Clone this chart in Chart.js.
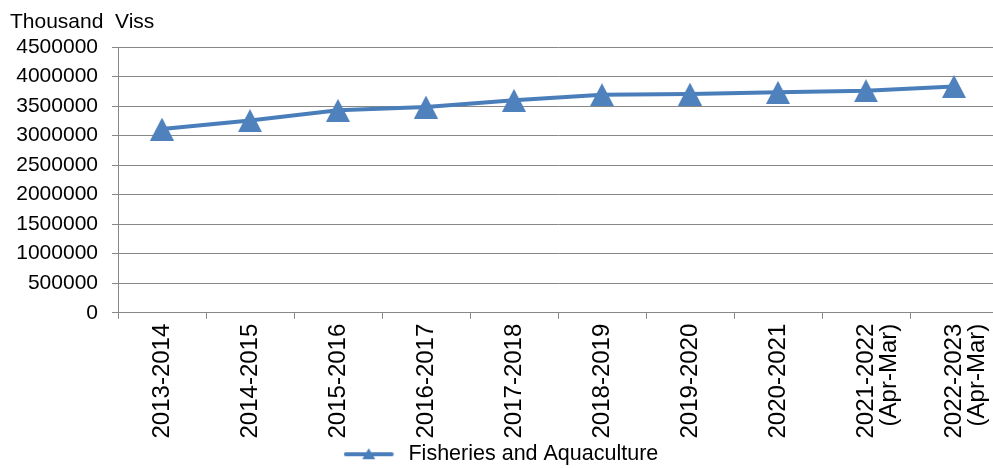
<!DOCTYPE html>
<html>
<head>
<meta charset="utf-8">
<script src="https://cdn.jsdelivr.net/npm/chart.js@4/dist/chart.umd.min.js"></script>
<style>
  html, body { margin: 0; padding: 0; background: #fff; overflow: hidden; }
  #wrap { width: 1014px; height: 468px; }
</style>
</head>
<body>
<div id="wrap"><canvas id="chart" width="1014" height="468"></canvas></div>
<script>
// data
var years = [
  '2013-2014', '2014-2015', '2015-2016', '2016-2017', '2017-2018',
  '2018-2019', '2019-2020', '2020-2021',
  ['2021-2022', '(Apr-Mar)'], ['2022-2023', '(Apr-Mar)']
];
var fisheries = [3110000, 3254000, 3427000, 3483000, 3597000, 3693000, 3703000, 3732000, 3760000, 3833000];
var seriesName = 'Fisheries and Aquaculture';
var unitLabel = 'Thousand  Viss';

var blue = '#4A7EBB';
var grey = '#878787';
var fontFam = '"Liberation Sans", Arial, sans-serif';

// marker: triangle centred on its bounding box, like the office-style marker
function triangleMarker(w, h) {
  var c = document.createElement('canvas');
  c.width = w; c.height = h;
  var g = c.getContext('2d');
  g.fillStyle = '#4F81BD';
  g.beginPath(); g.moveTo(w / 2, 0); g.lineTo(w, h); g.lineTo(0, h); g.closePath(); g.fill();
  return c;
}
var marker = triangleMarker(24, 23);

// legend icon: line with a small triangle on it
function legendIcon() {
  var c = document.createElement('canvas');
  c.width = 54; c.height = 16;
  var g = c.getContext('2d');
  g.strokeStyle = blue;
  g.lineWidth = 4;
  g.lineCap = 'round';
  g.beginPath(); g.moveTo(2, 8); g.lineTo(48, 8); g.stroke();
  g.fillStyle = blue;
  g.beginPath(); g.moveTo(25, 2); g.lineTo(31.5, 13); g.lineTo(18.5, 13); g.closePath(); g.fill();
  return c;
}
var icon = legendIcon();

// unit text at the top left
var unitTitle = {
  id: 'unitTitle',
  afterDraw: function(chart) {
    var ctx = chart.ctx;
    ctx.save();
    ctx.font = '21px ' + fontFam;
    ctx.fillStyle = '#000';
    ctx.textBaseline = 'alphabetic';
    ctx.textAlign = 'left';
    ctx.fillText(unitLabel, 10, 28);
    ctx.restore();
  }
};

new Chart(document.getElementById('chart'), {
  type: 'line',
  data: {
    labels: years,
    datasets: [{
      label: seriesName,
      data: fisheries,
      borderColor: blue,
      backgroundColor: '#4F81BD',
      borderWidth: 4,
      tension: 0,
      pointStyle: marker,
      pointRadius: 12,
      pointHoverRadius: 12
    }]
  },
  options: {
    responsive: false,
    animation: false,
    devicePixelRatio: 1,
    layout: { padding: { left: 0, right: 12, top: 47, bottom: -7 } },
    scales: {
      x: {
        offset: true,
        grid: { drawOnChartArea: false, offset: true, color: grey, tickLength: 6, lineWidth: 1 },
        border: { color: grey, width: 1 },
        ticks: {
          minRotation: 90, maxRotation: 90, autoSkip: false, padding: 5,
          color: '#000',
          font: { family: fontFam, size: 24, lineHeight: 0.96 }
        }
      },
      y: {
        min: 0, max: 4500000,
        afterFit: function(scale) { scale.width = 118; },
        grid: { color: grey, tickLength: 6, lineWidth: 1 },
        border: { color: grey, width: 1 },
        ticks: {
          stepSize: 500000, padding: 14, color: '#000',
          font: { family: fontFam, size: 21 },
          callback: function(v) { return String(v); }
        }
      }
    },
    plugins: {
      tooltip: { enabled: false },
      legend: {
        position: 'bottom',
        labels: {
          usePointStyle: true,
          pointStyleWidth: 54,
          padding: 0,
          color: '#000',
          font: { family: fontFam, size: 21.5 },
          generateLabels: function(chart) {
            var items = Chart.defaults.plugins.legend.labels.generateLabels(chart);
            items.forEach(function(it) { it.pointStyle = icon; });
            return items;
          }
        }
      }
    }
  },
  plugins: [unitTitle]
});
</script>
</body>
</html>
